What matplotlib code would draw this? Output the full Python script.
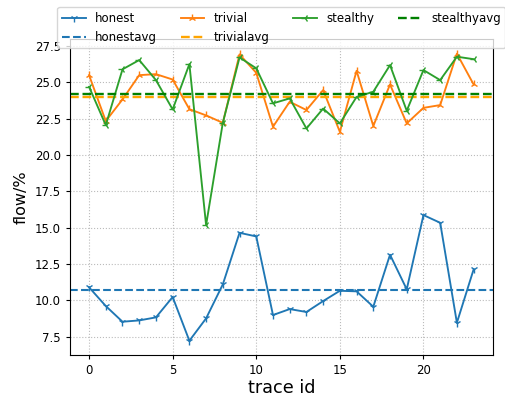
import numpy as np
import matplotlib
matplotlib.use("Agg")
import matplotlib.pyplot as plt

# values
trace_id = list(range(24))
honest = [10.9, 9.61, 8.53, 8.62, 8.83, 10.23, 7.22, 8.76, 11.1, 14.65, 14.4, 8.99,
          9.4, 9.2, 9.95, 10.66, 10.62, 9.56, 13.14, 10.76, 15.87, 15.34, 8.46, 12.13]
trivial = [25.5, 22.34, 23.83, 25.5, 25.57, 25.2, 23.16, 22.73, 22.22, 26.93, 25.66, 21.95,
           23.67, 23.1, 24.47, 21.6, 25.8, 22.0, 24.86, 22.18, 23.25, 23.44, 26.98, 24.86]
stealthy = [24.7, 22.06, 25.9, 26.54, 25.16, 23.14, 26.26, 15.18, 22.22, 26.72, 25.97, 23.56,
            23.9, 21.83, 23.2, 22.18, 24.0, 24.36, 26.19, 23.05, 25.85, 25.16, 26.77, 26.6]

honest_avg = 10.69
trivial_avg = 24.03
stealthy_avg = 24.19

y_ticks = [7.5, 10.0, 12.5, 15.0, 17.5, 20.0, 22.5, 25.0, 27.5]

# the original was drawn at a smaller dpi, so scale everything down a bit
plt.rcParams['font.size'] = 8.5
plt.rcParams['xtick.major.size'] = 3
plt.rcParams['ytick.major.size'] = 3
plt.rcParams['axes.linewidth'] = 0.8

fig = plt.figure(figsize=(5.06, 3.99), dpi=100)
ax = fig.add_axes([0.138, 0.110, 0.836, 0.7915])

lw = 1.35
ms = 5.2
ax.plot(trace_id, honest, marker='1', color='tab:blue', lw=lw, ms=ms, label='honest')
ax.axhline(honest_avg, color='tab:blue', ls='--', lw=1.5, label='honestavg')
ax.plot(trace_id, trivial, marker='2', color='tab:orange', lw=lw, ms=ms, label='trivial')
ax.axhline(trivial_avg, color='orange', ls='--', lw=1.7, label='trivialavg')
ax.plot(trace_id, stealthy, marker='3', color='tab:green', lw=lw, ms=ms, label='stealthy')
ax.axhline(stealthy_avg, color='green', ls='--', lw=1.7, label='stealthyavg')

ax.set_yticks(y_ticks)
ax.grid(True, ls=':', color='#bbbbbb', lw=0.8)
ax.set_xlabel("trace id", fontsize=12.7, labelpad=1.5)
ax.set_ylabel("flow/%", fontsize=11.5)

ax.legend(loc='upper center', bbox_to_anchor=(0.5, 1.102), ncol=4, fontsize=8.5,
          borderaxespad=0)

fig.savefig("out.png", dpi=100)
